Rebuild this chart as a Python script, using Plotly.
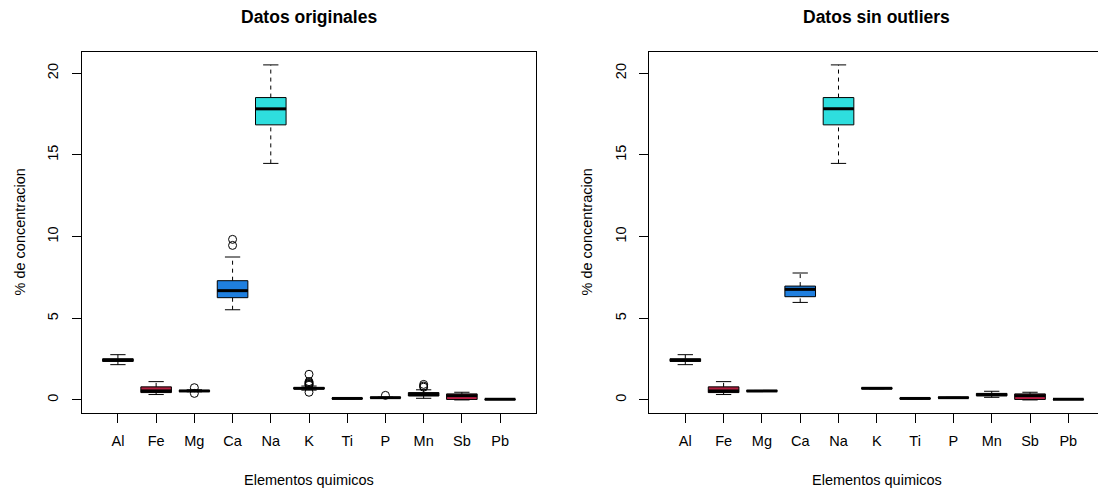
import plotly.graph_objects as go

# ---------------- data ----------------
elements = ["Al", "Fe", "Mg", "Ca", "Na", "K", "Ti", "P", "Mn", "Sb", "Pb"]
box_colors = ["#333333", "#B0203F", "#333333", "#1F7FDF", "#2EDEDE", "#333333",
              "#333333", "#333333", "#333333", "#C8204A", "#333333"]

# Datos originales (box statistics)
orig_lo = [2.16, 0.33, 0.50, 5.52, 14.48, 0.60, 0.07, 0.12, 0.10, 0.00, 0.03]
orig_q1 = [2.36, 0.45, 0.52, 6.26, 16.84, 0.67, 0.08, 0.13, 0.24, 0.03, 0.03]
orig_med = [2.43, 0.55, 0.55, 6.69, 17.82, 0.71, 0.09, 0.14, 0.33, 0.26, 0.04]
orig_q3 = [2.52, 0.80, 0.58, 7.30, 18.51, 0.76, 0.10, 0.15, 0.45, 0.37, 0.05]
orig_hi = [2.77, 1.12, 0.62, 8.75, 20.51, 0.85, 0.11, 0.17, 0.62, 0.47, 0.06]
orig_out = [[], [], [0.75, 0.40], [9.83, 9.46], [],
            [1.57, 1.12, 1.05, 1.00, 0.95, 0.90, 0.47], [], [0.28],
            [0.95, 0.85, 0.78], [], []]

# Datos sin outliers
clean_lo = [2.16, 0.33, 0.52, 5.97, 14.48, 0.68, 0.07, 0.12, 0.16, 0.00, 0.03]
clean_q1 = [2.36, 0.45, 0.53, 6.32, 16.84, 0.69, 0.08, 0.13, 0.25, 0.03, 0.03]
clean_med = [2.43, 0.55, 0.55, 6.77, 17.82, 0.71, 0.09, 0.14, 0.32, 0.26, 0.04]
clean_q3 = [2.52, 0.80, 0.57, 6.97, 18.51, 0.74, 0.10, 0.15, 0.40, 0.37, 0.05]
clean_hi = [2.77, 1.12, 0.58, 7.77, 20.51, 0.76, 0.11, 0.16, 0.53, 0.47, 0.06]
clean_out = [[] for _ in elements]

y_ticks = [0, 5, 10, 15, 20]
titles = ["Datos originales", "Datos sin outliers"]
x_title = "Elementos quimicos"
y_title = "% de concentracion"

FONT = "Liberation Sans, Arial, Helvetica, sans-serif"
W, H = 1098, 488

fig = go.Figure()


def add_panel(xa, ya, lo, q1, med, q3, hi, outs):
    pos = list(range(1, len(elements) + 1))
    # whisker stems (dashed)
    wx, wy = [], []
    for p, a, b, c, d in zip(pos, lo, q1, q3, hi):
        wx += [p, p, None, p, p, None]
        wy += [c, d, None, a, b, None]
    fig.add_trace(go.Scatter(x=wx, y=wy, mode="lines", xaxis=xa, yaxis=ya,
                             line=dict(color="black", width=1, dash="4px,4px"),
                             hoverinfo="skip", showlegend=False))
    # staples
    sx, sy = [], []
    for p, a, d in zip(pos, lo, hi):
        sx += [p - 0.2, p + 0.2, None, p - 0.2, p + 0.2, None]
        sy += [d, d, None, a, a, None]
    fig.add_trace(go.Scatter(x=sx, y=sy, mode="lines", xaxis=xa, yaxis=ya,
                             line=dict(color="black", width=1),
                             hoverinfo="skip", showlegend=False))
    # boxes
    for i, p in enumerate(pos):
        fig.add_trace(go.Box(x=[p], q1=[q1[i]], median=[med[i]], q3=[q3[i]],
                             lowerfence=[q1[i]], upperfence=[q3[i]],
                             width=0.8, whiskerwidth=0, boxpoints=False,
                             fillcolor=box_colors[i],
                             line=dict(color="black", width=1),
                             xaxis=xa, yaxis=ya, hoverinfo="skip",
                             showlegend=False))
    # medians (thick)
    mx, my = [], []
    for p, m in zip(pos, med):
        mx += [p - 0.4, p + 0.4, None]
        my += [m, m, None]
    fig.add_trace(go.Scatter(x=mx, y=my, mode="lines", xaxis=xa, yaxis=ya,
                             line=dict(color="black", width=3),
                             hoverinfo="skip", showlegend=False))
    # outliers
    ox, oy = [], []
    for p, o in zip(pos, outs):
        ox += [p] * len(o)
        oy += o
    if ox:
        fig.add_trace(go.Scatter(x=ox, y=oy, mode="markers", xaxis=xa, yaxis=ya,
                                 marker=dict(symbol="circle-open", size=8,
                                             color="black",
                                             line=dict(width=1, color="black")),
                                 hoverinfo="skip", showlegend=False))


add_panel("x", "y", orig_lo, orig_q1, orig_med, orig_q3, orig_hi, orig_out)
add_panel("x2", "y2", clean_lo, clean_q1, clean_med, clean_q3, clean_hi, clean_out)

ydom = [1 - 413 / H, 1 - 52 / H]
axis_common = dict(showgrid=False, zeroline=False, showline=True,
                   linecolor="black", linewidth=1, ticks="outside",
                   ticklen=9, tickcolor="black", tickwidth=1,
                   tickfont=dict(family=FONT, size=14.5, color="black"))

fig.update_layout(
    width=W, height=H,
    margin=dict(l=0, r=0, t=0, b=0),
    paper_bgcolor="white", plot_bgcolor="white",
    boxmode="overlay",
    showlegend=False,
    xaxis=dict(domain=[82 / W, 536 / W], range=[0.06, 11.94],
               tickmode="array", tickvals=list(range(1, 12)),
               ticktext=elements, mirror=True, anchor="y",
               ticklabelstandoff=6, **axis_common),
    yaxis=dict(domain=ydom, range=[-0.8, 21.3], tickmode="array",
               tickvals=y_ticks, tickangle=-90, mirror=True, anchor="x",
               ticklabelstandoff=8, **axis_common),
    xaxis2=dict(domain=[649.3 / W, 1.0], range=[0.06, 11.775],
                tickmode="array", tickvals=list(range(1, 12)),
                ticktext=elements, mirror=True, anchor="y2",
                ticklabelstandoff=6, **axis_common),
    yaxis2=dict(domain=ydom, range=[-0.8, 21.3], tickmode="array",
                tickvals=y_ticks, tickangle=-90, mirror=False, anchor="x2",
                ticklabelstandoff=8, **axis_common),
)

title_x = [309 / W, 876.5 / W]
yaxis_title_x = [20 / W, 587 / W]
for i in range(2):
    fig.add_annotation(text="<b>" + titles[i] + "</b>", xref="paper", yref="paper",
                       x=title_x[i], y=1 - 17 / H, xanchor="center", yanchor="middle",
                       showarrow=False, font=dict(family=FONT, size=17.5, color="black"))
    fig.add_annotation(text=x_title, xref="paper", yref="paper",
                       x=title_x[i], y=1 - 480 / H, xanchor="center", yanchor="middle",
                       showarrow=False, font=dict(family=FONT, size=14.5, color="black"))
    fig.add_annotation(text=y_title, xref="paper", yref="paper",
                       x=yaxis_title_x[i], y=1 - 232.5 / H, xanchor="center",
                       yanchor="middle", textangle=-90, showarrow=False,
                       font=dict(family=FONT, size=14.5, color="black"))

fig.write_html("out.html",
               config={"displayModeBar": False, "staticPlot": True},
               post_script="document.body.style.margin='0px';"
                           "document.body.style.overflow='hidden';")
